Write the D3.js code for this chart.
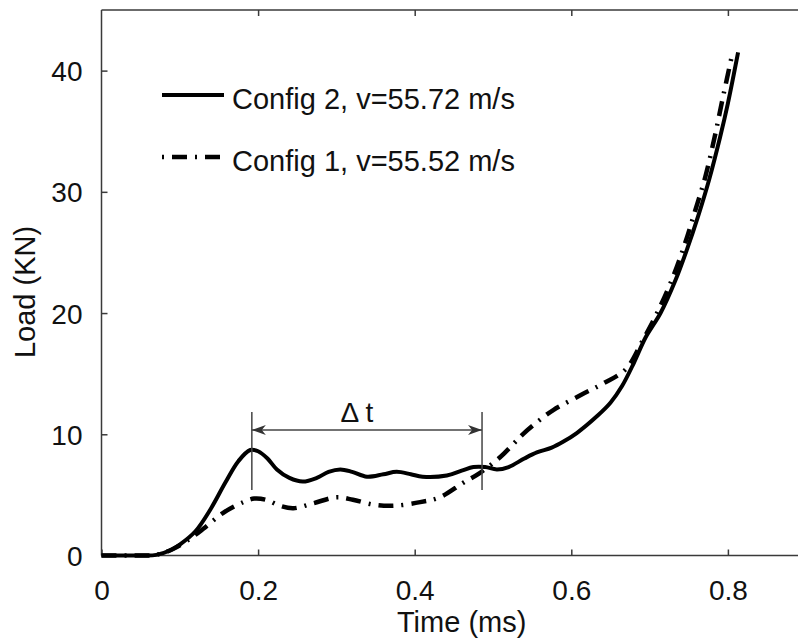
<!DOCTYPE html>
<html>
<head>
<meta charset="utf-8">
<script src="https://cdn.jsdelivr.net/npm/d3@7"></script>
<style>
  html, body { margin: 0; padding: 0; background: #fff; }
  svg { display: block; font-family: "Liberation Sans", Arial, sans-serif; }
</style>
</head>
<body>
<div id="chart"></div>
<script>
// Config 2 (solid), time in ms / load in KN
const config2Time = [0, 0.05, 0.07, 0.09, 0.1, 0.12, 0.14, 0.158, 0.175, 0.19, 0.2, 0.212, 0.224, 0.24, 0.257, 0.275, 0.29, 0.305, 0.32, 0.339, 0.36, 0.377, 0.395, 0.41, 0.441, 0.46, 0.475, 0.49, 0.505, 0.52, 0.54, 0.556, 0.575, 0.59, 0.607, 0.633, 0.65, 0.665, 0.68, 0.695, 0.714, 0.733, 0.748, 0.762, 0.776, 0.79, 0.8, 0.813];
const config2Load = [0, 0, 0.05, 0.5, 0.9, 2.0, 3.9, 6.0, 7.8, 8.7, 8.6, 8.0, 7.1, 6.4, 6.1, 6.4, 6.9, 7.1, 6.9, 6.5, 6.7, 6.9, 6.7, 6.5, 6.6, 7.0, 7.3, 7.3, 7.1, 7.3, 8.0, 8.5, 8.9, 9.4, 10.1, 11.5, 12.6, 14.0, 15.9, 18.0, 20.0, 22.7, 25.3, 28.0, 31.0, 34.5, 37.3, 41.5];

// Config 1 (dash-dot)
const config1Time = [0, 0.05, 0.07, 0.09, 0.109, 0.13, 0.155, 0.181, 0.195, 0.21, 0.228, 0.245, 0.27, 0.3, 0.321, 0.347, 0.372, 0.407, 0.432, 0.462, 0.483, 0.509, 0.526, 0.538, 0.558, 0.577, 0.611, 0.641, 0.67, 0.69, 0.711, 0.73, 0.745, 0.758, 0.771, 0.783, 0.793, 0.806];
const config1Load = [0, 0, 0.05, 0.5, 1.2, 2.2, 3.5, 4.4, 4.7, 4.6, 4.1, 3.9, 4.3, 4.8, 4.6, 4.2, 4.1, 4.4, 4.8, 6.0, 6.8, 8.1, 9.2, 10.0, 11.1, 12.0, 13.2, 14.2, 15.4, 17.6, 20.2, 23.0, 25.7, 28.4, 31.2, 34.5, 37.6, 41.5];

const xTicks = [0, 0.2, 0.4, 0.6, 0.8];
const yTicks = [0, 10, 20, 30, 40];
const legendLabels = ["Config 2, v=55.72 m/s", "Config 1, v=55.52 m/s"];
const deltaStart = 0.192, deltaEnd = 0.486, deltaLabel = "\u0394 t";

const width = 798, height = 642;
const plotLeft = 101.5, plotTop = 10, plotBottom = 555.5;

const svg = d3.select("#chart").append("svg")
  .attr("width", width)
  .attr("height", height);

const x = d3.scaleLinear().domain([0, 0.9]).range([plotLeft, plotLeft + 0.9 * 783]);
const y = d3.scaleLinear().domain([0, 45]).range([plotBottom, plotTop]);

const defs = svg.append("defs");
["arrowR", "arrowL"].forEach((id, i) => {
  defs.append("marker")
    .attr("id", id)
    .attr("viewBox", "0 0 14 10")
    .attr("refX", i === 0 ? 14 : 0)
    .attr("refY", 5)
    .attr("markerWidth", 14)
    .attr("markerHeight", 10)
    .attr("markerUnits", "userSpaceOnUse")
    .attr("orient", "auto")
    .append("path")
    .attr("d", i === 0 ? "M0,0 L14,5 L0,10 L4,5 Z" : "M14,0 L0,5 L14,10 L10,5 Z")
    .attr("fill", "#333");
});

// axes box
const axisColor = "#3a3a3a";
svg.append("line").attr("x1", plotLeft).attr("x2", width).attr("y1", plotTop).attr("y2", plotTop)
  .attr("stroke", axisColor).attr("stroke-width", 1.5);
svg.append("line").attr("x1", plotLeft).attr("x2", width).attr("y1", plotBottom).attr("y2", plotBottom)
  .attr("stroke", axisColor).attr("stroke-width", 1.5);
svg.append("line").attr("x1", plotLeft).attr("x2", plotLeft).attr("y1", plotTop).attr("y2", plotBottom)
  .attr("stroke", axisColor).attr("stroke-width", 1.5);

const xAxis = svg.append("g")
  .attr("transform", `translate(0,${plotBottom})`)
  .call(d3.axisBottom(x).tickValues(xTicks).tickSizeInner(-6).tickSizeOuter(0).tickFormat(d => d === 0 ? "0" : d3.format(".1f")(d)));
xAxis.select(".domain").remove();
xAxis.selectAll("line").attr("stroke", axisColor).attr("stroke-width", 1.5);
xAxis.selectAll("text").attr("y", 44).attr("dy", null)
  .attr("font-size", 28).attr("fill", "#111").attr("font-family", null);

const xTop = svg.append("g")
  .attr("transform", `translate(0,${plotTop})`)
  .call(d3.axisTop(x).tickValues(xTicks.slice(1)).tickSizeInner(-6).tickSizeOuter(0).tickFormat(""));
xTop.select(".domain").remove();
xTop.selectAll("line").attr("stroke", axisColor).attr("stroke-width", 1.5);

const yAxis = svg.append("g")
  .attr("transform", `translate(${plotLeft},0)`)
  .call(d3.axisLeft(y).tickValues(yTicks).tickSizeInner(-6).tickSizeOuter(0));
yAxis.select(".domain").remove();
yAxis.selectAll("line").attr("stroke", axisColor).attr("stroke-width", 1.5);
yAxis.selectAll("text").attr("x", -19).attr("dy", "0.36em")
  .attr("font-size", 28).attr("fill", "#111").attr("font-family", null);

svg.append("text")
  .attr("x", x(0.46))
  .attr("y", 632)
  .attr("text-anchor", "middle")
  .attr("font-size", 29)
  .attr("fill", "#111")
  .text("Time (ms)");

svg.append("text")
  .attr("transform", "translate(35,292) rotate(-90)")
  .attr("text-anchor", "middle")
  .attr("font-size", 29)
  .attr("fill", "#111")
  .text("Load (KN)");

// curves
const line = d3.line()
  .x(d => x(d[0]))
  .y(d => y(d[1]))
  .curve(d3.curveCatmullRom.alpha(0.5));

const config2 = config2Time.map((t, i) => [t, config2Load[i]]);
const config1 = config1Time.map((t, i) => [t, config1Load[i]]);

svg.append("path")
  .datum(config1)
  .attr("d", line)
  .attr("fill", "none")
  .attr("stroke", "#000")
  .attr("stroke-width", 4.5)
  .attr("stroke-dasharray", "15,8,2,8");

svg.append("path")
  .datum(config2)
  .attr("d", line)
  .attr("fill", "none")
  .attr("stroke", "#000")
  .attr("stroke-width", 4);

// delta t annotation
const barTop = 412, barBottom = 490, arrowY = 430;
[deltaStart, deltaEnd].forEach(t => {
  svg.append("line")
    .attr("x1", x(t)).attr("x2", x(t))
    .attr("y1", barTop).attr("y2", barBottom)
    .attr("stroke", "#444").attr("stroke-width", 1.5);
});
svg.append("line")
  .attr("x1", x(deltaStart)).attr("x2", x(deltaEnd))
  .attr("y1", arrowY).attr("y2", arrowY)
  .attr("stroke", "#444").attr("stroke-width", 1.3)
  .attr("marker-start", "url(#arrowL)")
  .attr("marker-end", "url(#arrowR)");
svg.append("text")
  .attr("x", (x(deltaStart) + x(deltaEnd)) / 2 - 10)
  .attr("y", 422)
  .attr("text-anchor", "middle")
  .attr("font-size", 28)
  .attr("fill", "#111")
  .text(deltaLabel);

// legend
const legend = svg.append("g");
legendLabels.forEach((label, i) => {
  const ly = 95 + i * 62;
  legend.append("line")
    .attr("x1", 162).attr("x2", 224)
    .attr("y1", ly).attr("y2", ly)
    .attr("stroke", "#000")
    .attr("stroke-width", i === 0 ? 4 : 4.5)
    .attr("stroke-dasharray", i === 0 ? null : "15,8,2,8")
    .attr("stroke-dashoffset", i === 0 ? null : 23);
  legend.append("text")
    .attr("x", 232)
    .attr("y", ly + 14)
    .attr("font-size", 29)
    .attr("fill", "#111")
    .text(label);
});
</script>
</body>
</html>
